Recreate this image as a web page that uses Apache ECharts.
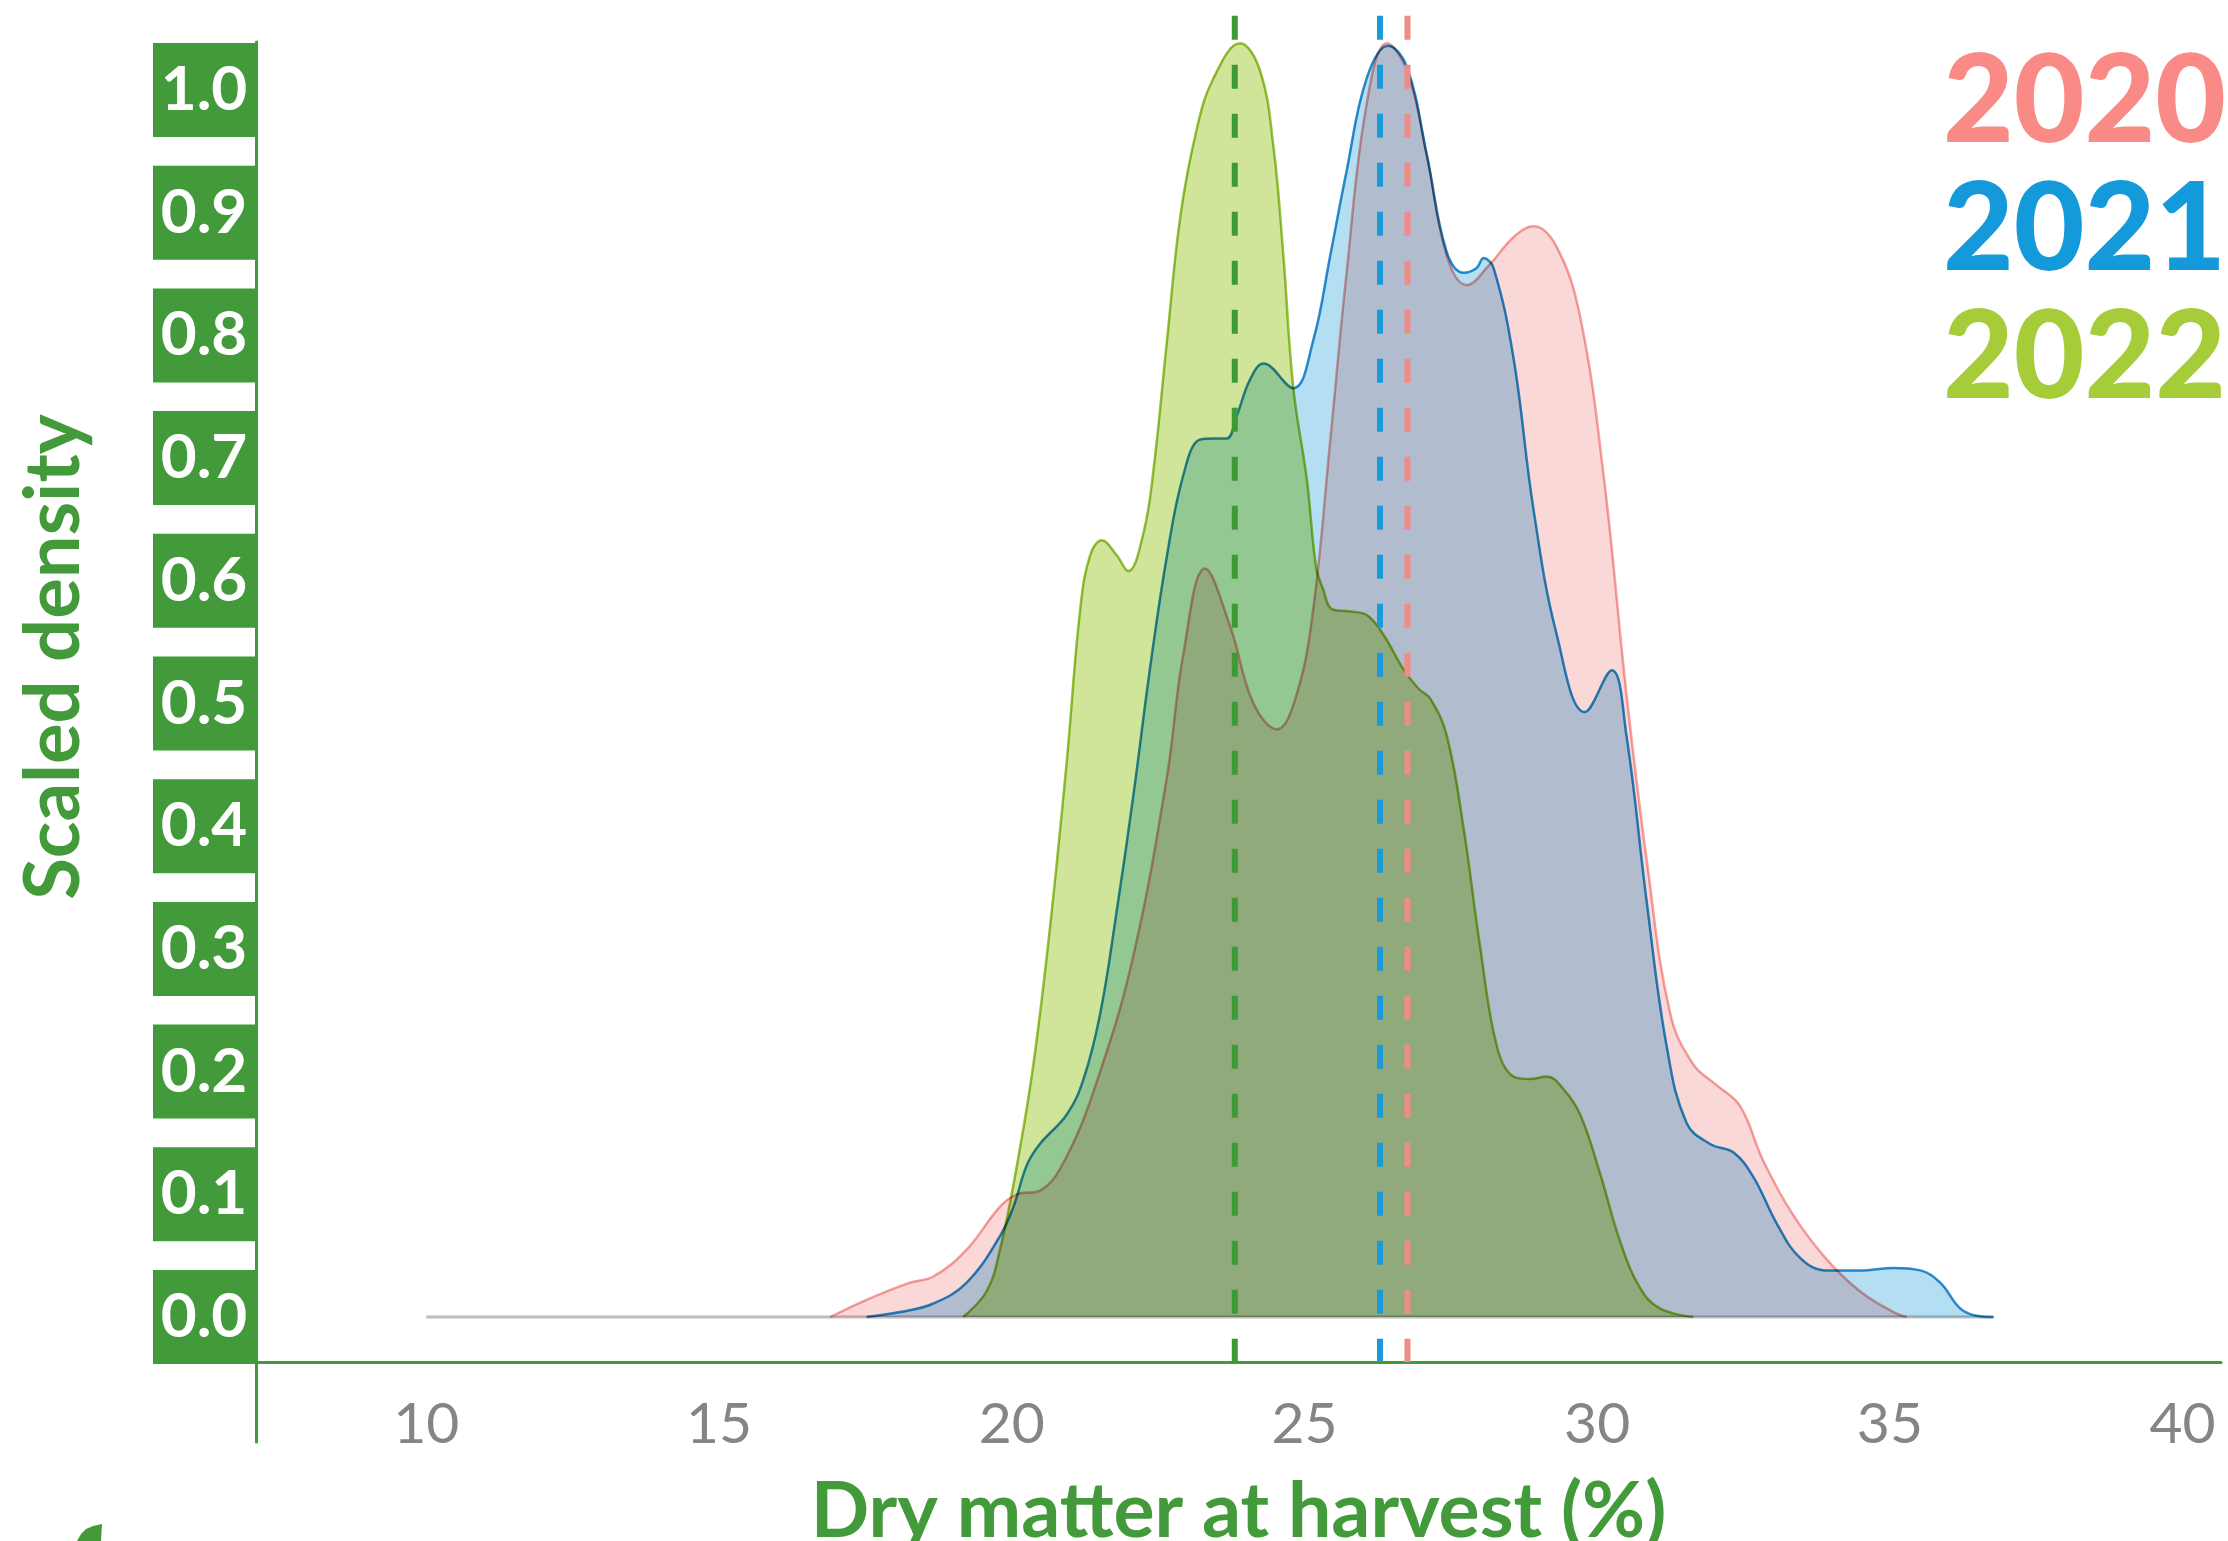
<!DOCTYPE html>
<html>
<head>
<meta charset="utf-8">
<script src="https://cdn.jsdelivr.net/npm/echarts@6/dist/echarts.min.js"></script>
<style>
html,body{margin:0;padding:0;background:#fff;}
#chart{width:2228px;height:1541px;}
</style>
</head>
<body>
<div id="chart"></div>
<script>
// ---- data ----
const years = ['2020', '2021', '2022'];
const density2020 = [[16.9,0],[17.52,0.014],[18.26,0.028],[18.66,0.033],[19.23,0.055],[19.8,0.09],[20.09,0.1],[20.48,0.103],[20.94,0.131],[21.51,0.2],[22.08,0.295],[22.65,0.44],[22.93,0.54],[23.3,0.61],[23.73,0.563],[24.13,0.5],[24.53,0.479],[24.87,0.508],[25.15,0.577],[25.44,0.714],[25.72,0.851],[26.06,0.988],[26.41,1.038],[26.75,1.016],[27.09,0.947],[27.43,0.865],[27.77,0.841],[28.17,0.858],[28.57,0.88],[28.91,0.889],[29.31,0.872],[29.71,0.815],[30.11,0.686],[30.5,0.508],[30.85,0.371],[31.25,0.247],[31.64,0.206],[32.04,0.189],[32.44,0.172],[32.84,0.127],[33.35,0.083],[33.92,0.047],[34.49,0.021],[35.06,0.004],[35.29,0]];
const density2021 = [[17.52,0],[18.09,0.004],[18.66,0.011],[19.23,0.028],[19.8,0.066],[20.03,0.09],[20.26,0.124],[20.48,0.141],[20.94,0.165],[21.22,0.193],[21.51,0.247],[21.79,0.33],[22.08,0.426],[22.36,0.528],[22.65,0.62],[22.93,0.686],[23.21,0.715],[23.44,0.716],[23.67,0.716],[23.84,0.734],[24.07,0.764],[24.3,0.777],[24.81,0.757],[25.15,0.796],[25.44,0.865],[25.72,0.934],[26.06,1.009],[26.43,1.036],[26.75,1.019],[27.09,0.947],[27.43,0.868],[27.72,0.851],[27.94,0.855],[28.06,0.863],[28.23,0.855],[28.57,0.782],[28.91,0.659],[29.31,0.556],[29.79,0.493],[30.25,0.527],[30.5,0.474],[30.85,0.337],[31.19,0.22],[31.53,0.158],[31.93,0.141],[32.33,0.134],[32.67,0.114],[33.07,0.076],[33.47,0.048],[33.92,0.038],[34.49,0.038],[35.06,0.04],[35.52,0.038],[35.86,0.028],[36.2,0.007],[36.48,0.001],[36.77,0]];
const density2022 = [[19.17,0],[19.57,0.021],[19.8,0.055],[20.09,0.124],[20.37,0.206],[20.65,0.316],[20.94,0.453],[21.17,0.577],[21.34,0.621],[21.54,0.633],[21.79,0.621],[21.99,0.608],[22.25,0.639],[22.42,0.69],[22.65,0.795],[22.88,0.897],[23.16,0.968],[23.44,1.009],[23.9,1.038],[24.24,1.016],[24.47,0.954],[24.64,0.865],[24.81,0.757],[25.04,0.683],[25.2,0.611],[25.32,0.593],[25.47,0.577],[25.78,0.575],[26.07,0.572],[26.35,0.556],[26.69,0.528],[26.95,0.512],[27.15,0.504],[27.43,0.474],[27.72,0.398],[28.0,0.302],[28.29,0.22],[28.57,0.196],[28.85,0.194],[29.14,0.196],[29.42,0.186],[29.71,0.165],[30.05,0.117],[30.39,0.062],[30.73,0.024],[31.07,0.007],[31.64,0]];
const yearMeans = [26.76, 26.29, 23.81];
const baselineRange = [10, 36.77];
const xTickLabels = [10, 15, 20, 25, 30, 35, 40];
const yTickLabels = [0, 0.1, 0.2, 0.3, 0.4, 0.5, 0.6, 0.7, 0.8, 0.9, 1.0];

// ---- styling ----
const GREEN = '#439a3b';
const textColors = ['#f98a85', '#1499db', '#a6cc3a'];
const fillColors = ['#fbd8d8', '#b4dff3', '#d1e59a'];
const strokeColors = ['#f4a3a1', '#2b90d0', '#98c33a'];
const meanColors = ['#f28a86', '#1a9ad9', '#3d9a37'];
const X_MIN = 7.091, X_MAX = 40.656;
const Y_MIN = -0.10187, Y_MAX = 1.03912;
const Y_AXISLINE = -0.0367;   // value where the x axis line sits
const Y_DASH_TOP = 1.0606;    // dashed mean lines reach a bit above the plot

const densities = [density2020, density2021, density2022];

const series = [];
series.push({
  type: 'line', name: 'baseline', silent: true, symbol: 'none',
  data: [[baselineRange[0], 0], [baselineRange[1], 0]],
  lineStyle: { color: '#bdbdbd', width: 3 }, z: 1
});
densities.forEach((d, i) => {
  series.push({
    type: 'line', name: years[i], data: d, smooth: 0.4, symbol: 'none', showSymbol: false,
    blendMode: 'multiply',
    lineStyle: { color: strokeColors[i], width: 2.5 },
    itemStyle: { color: textColors[i] },
    areaStyle: { color: fillColors[i], opacity: 1 },
    z: 2
  });
});
yearMeans.forEach((m, i) => {
  series.push({
    type: 'line', name: 'mean ' + years[i], silent: true, symbol: 'none', clip: false,
    data: [[m, Y_DASH_TOP], [m, Y_AXISLINE]],
    lineStyle: { color: meanColors[i], width: 6, type: [24, 25], cap: 'butt' },
    z: 5
  });
});

const chart = echarts.init(document.getElementById('chart'), null, { renderer: 'canvas' });
chart.setOption({
  animation: false,
  backgroundColor: '#fff',
  grid: { left: 256, right: 7, top: 42, bottom: 99, containLabel: false, outerBoundsMode: 'none' },
  legend: {
    orient: 'vertical', right: 2, top: 39, padding: 0, itemGap: 0,
    icon: 'rect', itemWidth: 0, itemHeight: 0, selectedMode: false,
    textStyle: { fontFamily: 'Lato', fontWeight: 900, fontSize: 122, lineHeight: 128 },
    data: years.map((y, i) => ({ name: y, textStyle: { color: textColors[i] } }))
  },
  xAxis: {
    type: 'value', min: X_MIN, max: X_MAX, offset: -80,
    axisLine: { show: true, onZero: false, lineStyle: { color: GREEN, width: 3 } },
    axisTick: { show: false }, splitLine: { show: false },
    axisLabel: { customValues: xTickLabels, color: '#858585', fontFamily: 'Lato', fontSize: 57, margin: 34 },
    name: 'Dry matter at harvest (%)', nameLocation: 'middle', nameGap: 112, nameMoveOverlap: false,
    nameTextStyle: { color: GREEN, fontFamily: 'Lato', fontWeight: 'bold', fontSize: 77 }
  },
  yAxis: {
    type: 'value', min: Y_MIN, max: Y_MAX,
    axisLine: { show: true, onZero: false, lineStyle: { color: GREEN, width: 3 } },
    axisTick: { show: false }, splitLine: { show: false },
    axisLabel: {
      customValues: yTickLabels, formatter: v => v.toFixed(1),
      color: '#fff', fontFamily: 'Lato', fontWeight: 'bold', fontSize: 62,
      backgroundColor: GREEN, width: 102, height: 94, lineHeight: 94,
      align: 'center', verticalAlign: 'middle', margin: 52
    },
    name: 'Scaled density', nameLocation: 'middle', nameRotate: 90, nameGap: 164, nameMoveOverlap: false,
    nameTextStyle: { color: GREEN, fontFamily: 'Lato', fontWeight: 'bold', fontSize: 76, padding: [0, 0, 0, 170] }
  },
  graphic: [{
    type: 'polygon', silent: true,
    shape: { points: [[77,1541],[81,1534],[86,1529],[93,1526],[102,1524],[101,1541]] },
    style: { fill: GREEN }
  }],
  series: series
});
</script>
</body>
</html>
